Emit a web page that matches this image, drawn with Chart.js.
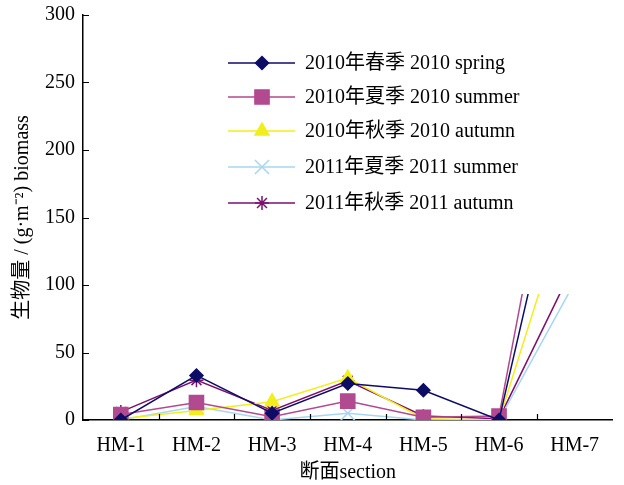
<!DOCTYPE html>
<html>
<head>
<meta charset="utf-8">
<script src="https://cdn.jsdelivr.net/npm/chart.js@4.4.1/dist/chart.umd.min.js"></script>
<style>
  html, body { margin: 0; padding: 0; background: #fff; }
  #wrap { width: 624px; height: 485px; }
</style>
</head>
<body>
<div id="wrap"><canvas id="chart"></canvas></div>
<script>
// Section names along the x axis
const sections = ["HM-1", "HM-2", "HM-3", "HM-4", "HM-5", "HM-6", "HM-7"];

// Biomass values (g·m-2)
const spring2010 = [0, 33, 5, 27, 22, 0, 243];
const summer2010 = [4, 13, 2.5, 14, 2, 3, 298];
const autumn2010 = [1, 7, 13.5, 31, 1, 0, 178];
const summer2011 = [0, 10, 0, 5, 0, 0, 102];
const autumn2011 = [6, 29.5, 7, 29, 3, 1, 116];

const yTicks = [0, 50, 100, 150, 200, 250, 300];

const FONT = "'Liberation Serif', 'Noto Sans CJK SC', serif";

// One entry per series: label, colour and marker
const seriesInfo = [
  { label: "2010年春季 2010 spring", data: spring2010, color: "#0d0d66", style: "rectRot", radius: 6.5 },
  { label: "2010年夏季 2010 summer", data: summer2010, color: "#b24a90", style: "rect", radius: 10 },
  { label: "2010年秋季 2010 autumn", data: autumn2010, color: "#f2ee1c", style: "triangle", radius: 8 },
  { label: "2011年夏季 2011 summer", data: summer2011, color: "#a6d6f0", style: "crossRot", radius: 10 },
  { label: "2011年秋季 2011 autumn", data: autumn2011, color: "#7d0f6e", style: "star", radius: 7 },
];

const datasets = seriesInfo.map(s => ({
  label: s.label,
  data: s.data,
  borderColor: s.color,
  backgroundColor: s.color,
  borderWidth: 1.5,
  pointStyle: s.style,
  pointRadius: s.radius,
  pointBorderWidth: 1.5,
  pointBackgroundColor: s.color,
  pointBorderColor: s.color,
  tension: 0,
  fill: false,
}));

// Inward tick marks on both axes
const axisTicks = {
  id: "axisTicks",
  afterDraw(chart) {
    const { ctx, chartArea, scales } = chart;
    ctx.save();
    ctx.strokeStyle = "#000";
    ctx.lineWidth = 1.2;
    ctx.beginPath();
    yTicks.forEach(v => {
      const y = Math.round(scales.y.getPixelForValue(v)) + 0.5;
      ctx.moveTo(chartArea.left, y);
      ctx.lineTo(chartArea.left + 6, y);
    });
    const step = scales.x.getPixelForValue(1) - scales.x.getPixelForValue(0);
    for (let i = 1; i < sections.length; i++) {
      const x = Math.round(scales.x.getPixelForValue(i) - step / 2) + 0.5;
      ctx.moveTo(x, chartArea.bottom);
      ctx.lineTo(x, chartArea.bottom - 6);
    }
    ctx.stroke();
    ctx.restore();
  }
};

// Legend inside the plot with a white box that hides what is behind it
const boxLegend = {
  id: "boxLegend",
  afterDatasetsDraw(chart) {
    const { ctx } = chart;
    ctx.save();
    ctx.fillStyle = "#fff";
    ctx.fillRect(215, 0, 409, 294);
    const rows = [63, 97, 131, 167, 203];
    seriesInfo.forEach((s, i) => {
      const y = rows[i];
      ctx.strokeStyle = s.color;
      ctx.fillStyle = s.color;
      ctx.lineWidth = 1.5;
      ctx.beginPath();
      ctx.moveTo(228, y);
      ctx.lineTo(295, y);
      ctx.stroke();
      Chart.helpers.drawPoint(ctx, { pointStyle: s.style, radius: s.radius, borderWidth: 1.5, rotation: 0 }, 262, y);
      ctx.fillStyle = "#000";
      ctx.font = "20px " + FONT;
      ctx.textBaseline = "middle";
      ctx.fillText(s.label, 305, y + 1);
    });
    ctx.restore();
  }
};

new Chart(document.getElementById("chart"), {
  type: "line",
  data: { labels: sections, datasets },
  plugins: [axisTicks, boxLegend],
  options: {
    responsive: true,
    maintainAspectRatio: false,
    animation: false,
    layout: { padding: { top: 15, right: 7, left: 0, bottom: 0 } },
    plugins: { legend: { display: false }, tooltip: { enabled: false } },
    scales: {
      x: {
        offset: true,
        grid: { display: false },
        border: { display: true, color: "#000", width: 1.5 },
        ticks: { color: "#000", font: { family: FONT, size: 20 }, padding: 6, maxRotation: 0 },
        title: { display: true, text: "断面section", color: "#000", font: { family: FONT, size: 20 }, padding: { top: 0, bottom: 0 } },
        afterFit(scale) { scale.height = 65; },
      },
      y: {
        min: 0,
        max: 300,
        afterBuildTicks(scale) { scale.ticks = yTicks.map(v => ({ value: v })); },
        grid: { display: false },
        border: { display: true, color: "#000", width: 1.5 },
        ticks: { color: "#000", font: { family: FONT, size: 20 }, padding: 0 },
        title: { display: true, text: "生物量 / (g·m⁻²) biomass", color: "#000", font: { family: FONT, size: 20 }, padding: { top: 11, bottom: 0 } },
        afterFit(scale) { scale.width = 83; },
      },
    },
  },
});
</script>
</body>
</html>
